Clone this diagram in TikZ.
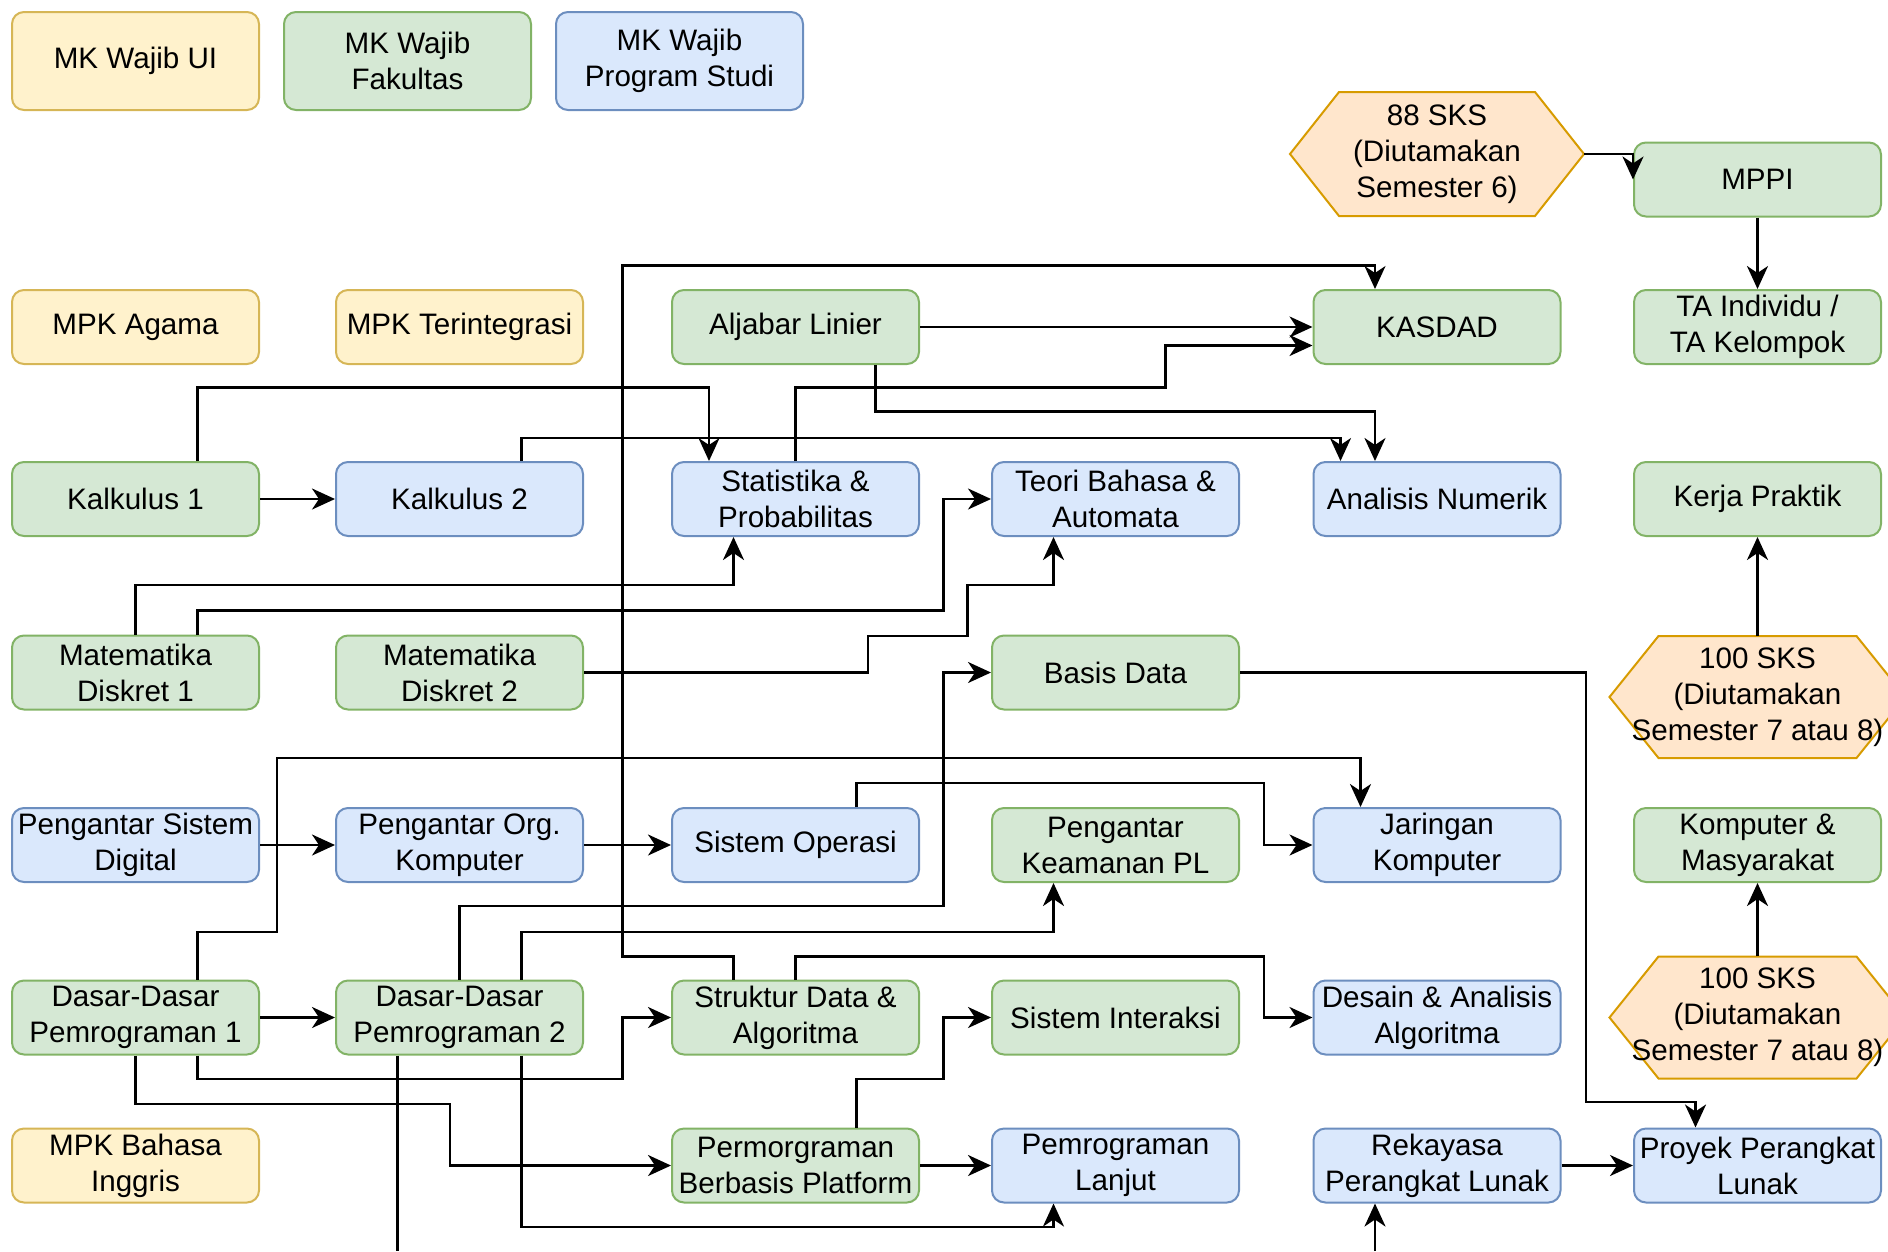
\documentclass[tikz,border=0pt]{standalone}
\usepackage{fontspec}
\setmainfont{Liberation Sans}
\usetikzlibrary{arrows.meta}
\definecolor{yelF}{HTML}{FFF2CC}
\definecolor{yelD}{HTML}{D6B656}
\definecolor{grnF}{HTML}{D5E8D4}
\definecolor{grnD}{HTML}{82B366}
\definecolor{bluF}{HTML}{DAE8FC}
\definecolor{bluD}{HTML}{6C8EBF}
\definecolor{orgF}{HTML}{FFE6CC}
\definecolor{orgD}{HTML}{D79B00}
\begin{document}
\begin{tikzpicture}[x=1pt,y=-1pt,
  font=\fontsize{29.6}{36}\selectfont,
  box/.style={rounded corners=12pt, line width=2pt, minimum width=247pt, minimum height=74pt, align=center, inner sep=0pt},
  yel/.style={box, fill=yelF, draw=yelD},
  grn/.style={box, fill=grnF, draw=grnD},
  blu/.style={box, fill=bluF, draw=bluD},
  hexst/.style={fill=orgF, draw=orgD, line width=2pt},
  hextext/.style={align=center, inner sep=0pt, minimum width=296pt, minimum height=122pt},
  arr/.style={line width=2.7pt, -{Stealth[length=23pt,width=21pt,inset=7pt]}},
  ln/.style={line width=2.7pt}]
\useasboundingbox (0,0) rectangle (1888,1251);
\clip (0,0) rectangle (1888,1251);

% legend
\node[yel, minimum height=98pt] (leg1) at (135.5,61) {MK Wajib UI};
\node[grn, minimum height=98pt] (leg2) at (407.5,61) {MK Wajib\\Fakultas};
\node[blu, minimum height=98pt] (leg3) at (679.5,61) {MK Wajib\\Program Studi};

% hexagon 88 SKS
\draw[hexst] (1290,154) -- (1339,92) -- (1535,92) -- (1584,154) -- (1535,216) -- (1339,216) -- cycle;
\node[hextext, minimum width=294pt, minimum height=124pt] (h88) at (1437,154) {88 SKS\\(Diutamakan\\Semester 6)};
\node[grn] (mppi) at (1757.5,179.5) {MPPI};

% row 2
\node[yel] (agama) at (135.5,327) {MPK Agama};
\node[yel] (terint) at (459.5,327) {MPK Terintegrasi};
\node[grn] (aljabar) at (795.5,327) {Aljabar Linier};
\node[grn] (kasdad) at (1437,327) {KASDAD};
\node[grn] (ta) at (1757.5,327) {TA Individu /\\TA Kelompok};

% row 3
\node[grn] (kal1) at (135.5,499) {Kalkulus 1};
\node[blu] (kal2) at (459.5,499) {Kalkulus 2};
\node[blu] (stat) at (795.5,499) {Statistika \&\\Probabilitas};
\node[blu] (teori) at (1115.5,499) {Teori Bahasa \&\\Automata};
\node[blu] (anum) at (1437,499) {Analisis Numerik};
\node[grn] (kp) at (1757.5,499) {Kerja Praktik};

% row 4
\node[grn] (md1) at (135.5,672.5) {Matematika\\Diskret 1};
\node[grn] (md2) at (459.5,672.5) {Matematika\\Diskret 2};
\node[grn] (basis) at (1115.5,672.5) {Basis Data};
\draw[hexst] (1609.5,697) -- (1658.5,636) -- (1856.5,636) -- (1905.5,697) -- (1856.5,758) -- (1658.5,758) -- cycle;
\node[hextext] (h100a) at (1757.5,697) {100 SKS\\(Diutamakan\\Semester 7 atau 8)};

% row 5
\node[blu] (psd) at (135.5,845) {Pengantar Sistem\\Digital};
\node[blu] (pok) at (459.5,845) {Pengantar Org.\\Komputer};
\node[blu] (so) at (795.5,845) {Sistem Operasi};
\node[grn] (pkpl) at (1115.5,845) {Pengantar\\Keamanan PL};
\node[blu] (jarkom) at (1437,845) {Jaringan\\Komputer};
\node[grn] (kommas) at (1757.5,845) {Komputer \&\\Masyarakat};

% row 6
\node[grn] (ddp1) at (135.5,1017.5) {Dasar-Dasar\\Pemrograman 1};
\node[grn] (ddp2) at (459.5,1017.5) {Dasar-Dasar\\Pemrograman 2};
\node[grn] (sda) at (795.5,1017.5) {Struktur Data \&\\Algoritma};
\node[grn] (sinter) at (1115.5,1017.5) {Sistem Interaksi};
\node[blu] (daa) at (1437,1017.5) {Desain \& Analisis\\Algoritma};
\draw[hexst] (1609.5,1017.5) -- (1658.5,956.5) -- (1856.5,956.5) -- (1905.5,1017.5) -- (1856.5,1078.5) -- (1658.5,1078.5) -- cycle;
\node[hextext] (h100b) at (1757.5,1017.5) {100 SKS\\(Diutamakan\\Semester 7 atau 8)};

% row 7
\node[yel] (bing) at (135.5,1165.5) {MPK Bahasa\\Inggris};
\node[grn] (pbp) at (795.5,1165.5) {Permorgraman\\Berbasis Platform};
\node[blu] (plan) at (1115.5,1165.5) {Pemrograman\\Lanjut};
\node[blu] (rpl) at (1437,1165.5) {Rekayasa\\Perangkat Lunak};
\node[blu] (ppl) at (1757.5,1165.5) {Proyek Perangkat\\Lunak};

\coordinate (rplin) at (1375,1251);
\coordinate (ddp2out) at (397.5,1251);

% connectors
\draw[arr] (h88.east) -| (mppi.west);
\draw[arr] (mppi.south) -- (ta.north);
\draw[arr] (h100a.north) -- (kp.south);
\draw[arr] (h100b.north) -- (kommas.south);
\draw[arr] (rpl.east) -- (ppl.west);
\draw[arr] (rplin) -- ([xshift=-62pt]rpl.south);
\draw[arr] (basis.east) -| (1586,1102) -| ([xshift=-62pt]ppl.north);
\draw[arr] (aljabar.east) -- (kasdad.west);
\draw[arr] (stat.north) |- (1165.5,387.7) |- ([yshift=-18.5pt]kasdad.west);
\draw[arr] ([xshift=80pt]aljabar.south) |- (1375,411.8) -- ([xshift=-62pt]anum.north);
\draw[arr] ([xshift=62pt]kal2.north) |- (1340.5,438) -- ([xshift=-96.5pt]anum.north);
\draw[arr] ([xshift=62pt]kal1.north) |- (709,387.7) -- ([xshift=-86.5pt]stat.north);
\draw[arr] (kal1.east) -- (kal2.west);
\draw[arr] ([xshift=-62pt]sda.north) |- (622.5,956.5) |- (1375,265.5) -- ([xshift=-62pt]kasdad.north);
\draw[arr] (sda.north) |- (1264,956.5) |- (daa.west);
\draw[arr] (md1.north) |- (733.5,585) -- ([xshift=-62pt]stat.south);
\draw[arr] ([xshift=62pt]md1.north) |- (943.5,610.5) |- (teori.west);
\draw[arr] (md2.east) -| (868,636) -| (967.5,585) -| ([xshift=-62pt]teori.south);
\draw[arr] (psd.east) -- (pok.west);
\draw[arr] (pok.east) -- (so.west);
\draw[arr] ([xshift=61pt]so.north) |- (1264,783) |- (jarkom.west);
\draw[arr] ([xshift=62pt]ddp1.north) |- (277,932) |- (1360.5,758) -- ([xshift=-76.5pt]jarkom.north);
\draw[arr] (ddp1.east) -- (ddp2.west);
\draw[arr] (ddp2.north) |- (943.5,906) |- (basis.west);
\draw[arr] ([xshift=62pt]ddp2.north) |- (1053.5,932) -- ([xshift=-62pt]pkpl.south);
\draw[arr] ([xshift=62pt]ddp1.south) |- (622.5,1079) |- (sda.west);
\draw[arr] (ddp1.south) |- (450,1104) |- (pbp.west);
\draw[ln] ([xshift=-62pt]ddp2.south) -- (ddp2out);
\draw[arr] ([xshift=62pt]ddp2.south) |- (1053.5,1227) -- ([xshift=-62pt]plan.south);
\draw[arr] ([xshift=61pt]pbp.north) |- (943.5,1079) |- (sinter.west);
\draw[arr] (pbp.east) -- (plan.west);
\end{tikzpicture}
\end{document}
